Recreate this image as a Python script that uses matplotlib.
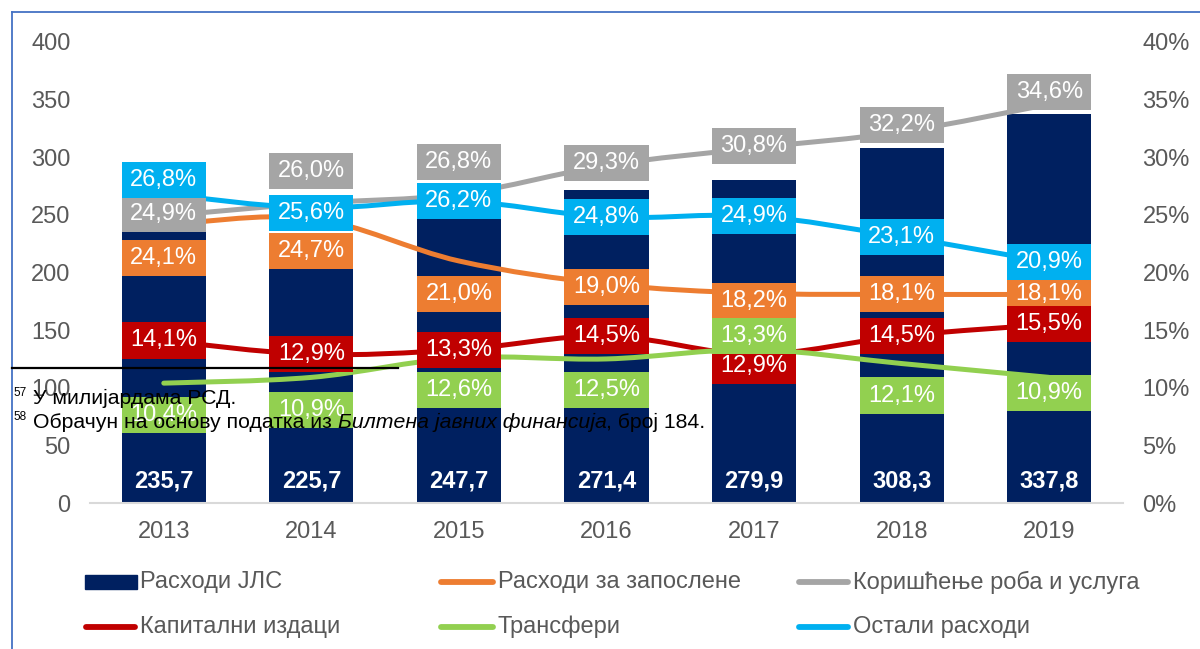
import matplotlib.pyplot as plt
from matplotlib.path import Path
from matplotlib.patches import PathPatch, Rectangle
from matplotlib.lines import Line2D
import numpy as np

plt.rcParams['font.family'] = ['Liberation Sans', 'DejaVu Sans']

# data
years = ['2013', '2014', '2015', '2016', '2017', '2018', '2019']
rashodi_jls = [235.7, 225.7, 247.7, 271.4, 279.9, 308.3, 337.8]
zaposleni = [24.1, 24.7, 21.0, 19.0, 18.2, 18.1, 18.1]
roba_usluge = [24.9, 26.0, 26.8, 29.3, 30.8, 32.2, 34.6]
kapitalni = [14.1, 12.9, 13.3, 14.5, 12.9, 14.5, 15.5]
transferi = [10.4, 10.9, 12.6, 12.5, 13.3, 12.1, 10.9]
ostali = [26.8, 25.6, 26.2, 24.8, 24.9, 23.1, 20.9]

bar_name = 'Расходи ЈЛС'
line_names = ['Расходи за запослене', 'Коришћење роба и услуга',
              'Капитални издаци', 'Трансфери', 'Остали расходи']
line_values = [zaposleni, roba_usluge, kapitalni, transferi, ostali]

# styles
bar_color = '#002060'
line_colors = ['#ED7D31', '#A5A5A5', '#C00000', '#92D050', '#00B0F0']
tick_color = '#595959'
fs = 17

# label offsets in pixels (positive = downwards), per series
label_dy = [
    [33, 33, 33, 3, 8, 0, 0],
    [-2, -32, -32, -2, -2, -7, -12],
    [0, 0, 0, 0, 12, 0, 0],
    [32, 33, 32, 31, -14, 32, 16],
    [-14, 5, 0, 0, 0, 0, 0],
]


def smooth_path(x, y):
    pts = np.column_stack([x, y]).astype(float)
    n = len(pts)
    verts = [pts[0]]
    codes = [Path.MOVETO]
    for i in range(n - 1):
        p0 = pts[max(i - 1, 0)]
        p1 = pts[i]
        p2 = pts[i + 1]
        p3 = pts[min(i + 2, n - 1)]
        verts += [p1 + (p2 - p0) / 6, p2 - (p3 - p1) / 6, p2]
        codes += [Path.CURVE4] * 3
    return Path(verts, codes)


def label_box(x0, y0, width, height, mutation_size):
    # fixed size box like the excel data labels
    cx = x0 + width / 2
    cy = y0 + height / 2
    w = 3.56 * mutation_size
    h = 1.53 * mutation_size
    return Path([(cx - w / 2, cy - h / 2), (cx + w / 2, cy - h / 2),
                 (cx + w / 2, cy + h / 2), (cx - w / 2, cy + h / 2),
                 (cx - w / 2, cy - h / 2)],
                [Path.MOVETO, Path.LINETO, Path.LINETO, Path.LINETO, Path.CLOSEPOLY])


W, H = 1200, 649
fig = plt.figure(figsize=(W / 100, H / 100), dpi=100)
ax1 = fig.add_axes([90 / W, 1 - 503 / H, (1123 - 90) / W, (503 - 42) / H])
ax2 = ax1.twinx()

x = np.arange(len(years))
ax1.bar(x, rashodi_jls, width=0.57, color=bar_color, zorder=2)
for i, v in enumerate(rashodi_jls):
    ax1.annotate(f'{v:.1f}'.replace('.', ','), xy=(i, 0), xytext=(0, 22 * 0.72),
                 textcoords='offset points', ha='center', va='center',
                 color='white', fontweight='bold', fontsize=fs, zorder=3)

ax1.set_xlim(-0.5, 6.5)
ax1.set_ylim(0, 400)
ax1.set_yticks(range(0, 401, 50))
ax1.set_xticks(x)
ax1.set_xticklabels(years)
ax2.set_ylim(0, 40)
ax2.set_yticks(range(0, 41, 5))
ax2.set_yticklabels([f'{t}%' for t in range(0, 41, 5)])

for ax in (ax1, ax2):
    for s in ax.spines.values():
        s.set_visible(False)
    ax.tick_params(length=0, labelsize=fs, labelcolor=tick_color)
ax1.spines['bottom'].set_visible(True)
ax1.spines['bottom'].set_color('#D9D9D9')
ax1.spines['bottom'].set_linewidth(1.5)
ax1.tick_params(axis='y', pad=14)
ax1.tick_params(axis='x', pad=13)
ax2.tick_params(axis='y', pad=14)

for k, (vals, col) in enumerate(zip(line_values, line_colors)):
    ax2.add_patch(PathPatch(smooth_path(x, vals), facecolor='none', edgecolor=col,
                            lw=3.6, capstyle='round', zorder=4 + k * 0.1))

for k, (vals, col) in enumerate(zip(line_values, line_colors)):
    for i, v in enumerate(vals):
        ax2.annotate(f'{v:.1f}%'.replace('.', ','), xy=(i, v),
                     xytext=(0, -label_dy[k][i] * 0.72), textcoords='offset points',
                     ha='center', va='center', color='white', fontsize=fs,
                     bbox=dict(boxstyle=label_box, fc=col, ec='none'),
                     zorder=10 + k)

# legend drawn by hand to keep excel column layout
legend_rows = [582, 627]
legend_cols = [(85, 137, 140), (438, 496, 498), (796, 851, 853)]
entries = [(bar_name, bar_color, 'bar')] + [(n, c, 'line') for n, c in zip(line_names, line_colors)]
for j, (name, col, kind) in enumerate(entries):
    r, c = divmod(j, 3)
    x0, x1, tx = legend_cols[c]
    yy = 1 - legend_rows[r] / H
    if kind == 'bar':
        fig.add_artist(Rectangle((x0 / W, yy - 7 / H), (x1 - x0) / W, 14 / H,
                                 transform=fig.transFigure, color=col))
    else:
        if c == 0:
            x0, x1 = 83, 138
        fig.add_artist(Line2D([(x0 + 3) / W, (x1 - 3) / W], [yy, yy], transform=fig.transFigure,
                              color=col, lw=4.2, solid_capstyle='round'))
    fig.text(tx / W, yy, name, fontsize=fs, color=tick_color, va='center', ha='left')

# outer frame
fig.add_artist(Line2D([12 / W, 12 / W], [0, 1 - 12 / H], transform=fig.transFigure,
                      color='#4472C4', lw=1.3))
fig.add_artist(Line2D([12 / W, 1], [1 - 12 / H, 1 - 12 / H], transform=fig.transFigure,
                      color='#4472C4', lw=1.3))

# footnotes overlapping the chart
fig.add_artist(Line2D([12 / W, 398 / W], [1 - 368 / H] * 2, transform=fig.transFigure,
                      color='black', lw=1.6, zorder=20))
fn = 15.3
fig.text(13 / W, 1 - 396 / H, '57', fontsize=8.5, va='baseline', zorder=20)
fig.text(33 / W, 1 - 404 / H, 'У милијардама РСД.', fontsize=fn, va='baseline', zorder=20)
fig.text(13 / W, 1 - 420 / H, '58', fontsize=8.5, va='baseline', zorder=20)

renderer = fig.canvas.get_renderer()
xpos = 33 / W
for part, style in [('Обрачун на основу податка из ', 'normal'),
                    ('Билтена јавних финансија', 'italic'),
                    (', број 184.', 'normal')]:
    t = fig.text(xpos, 1 - 428 / H, part, fontsize=fn, style=style,
                 va='baseline', zorder=20)
    bb = t.get_window_extent(renderer)
    xpos = bb.x1 / W

fig.savefig('out.png', dpi=100)
